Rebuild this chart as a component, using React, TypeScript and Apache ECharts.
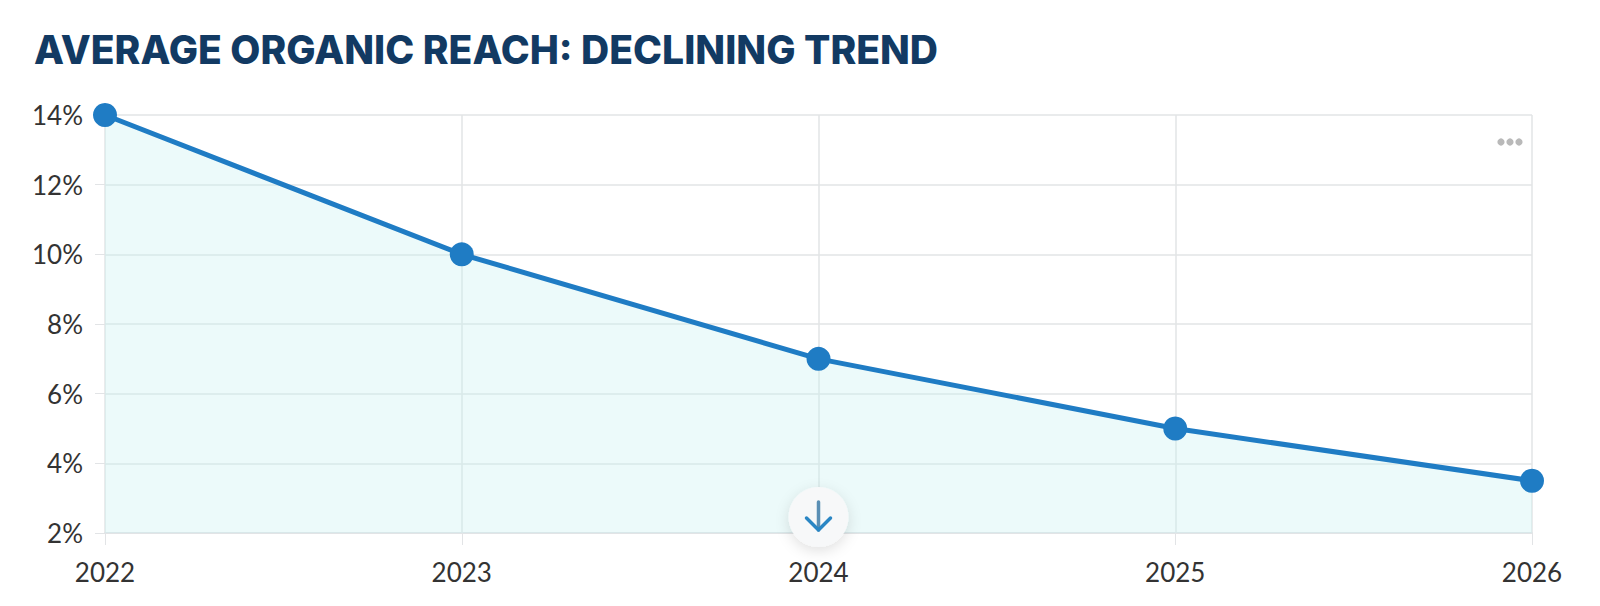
import { useEffect, useRef } from 'react';
import * as echarts from 'echarts';

const years = ['2022', '2023', '2024', '2025', '2026'];
const reach = [14, 10, 7, 5, 3.5];
const yMin = 2;
const yMax = 14;
const yStep = 2;

const LINE_BLUE = '#1f7cc4';
const GRID_GREY = '#e2e4e6';

const App = () => {
    const chartRef = useRef<HTMLDivElement>(null);

    useEffect(() => {
        const chart = echarts.init(chartRef.current, null, { renderer: 'svg' });

        chart.setOption({
            animation: false,
            title: {
                text: 'AVERAGE ORGANIC REACH: DECLINING TREND',
                left: 21,
                top: 17,
                textStyle: {
                    fontFamily: 'Inter',
                    fontWeight: 800,
                    fontSize: 39,
                    color: '#123a63',
                },
            },
            grid: { left: 97, right: 60, top: 107, bottom: 65 },
            xAxis: {
                type: 'category',
                data: years,
                boundaryGap: false,
                axisLine: { lineStyle: { color: GRID_GREY, width: 2 } },
                axisTick: { show: true, length: 12, lineStyle: { color: GRID_GREY } },
                axisLabel: {
                    margin: 26,
                    fontFamily: 'Lato',
                    fontSize: 26,
                    color: '#333',
                },
                splitLine: { show: true, lineStyle: { color: GRID_GREY, width: 1.5 } },
            },
            yAxis: {
                type: 'value',
                min: yMin,
                max: yMax,
                interval: yStep,
                axisLine: { show: false },
                axisTick: { show: true, length: 10, lineStyle: { color: GRID_GREY } },
                axisLabel: {
                    margin: 22,
                    fontFamily: 'Lato',
                    fontSize: 26,
                    color: '#333',
                    formatter: '{value}%',
                },
                splitLine: { lineStyle: { color: GRID_GREY, width: 1.5 } },
            },
            series: [
                {
                    type: 'line',
                    data: reach,
                    symbol: 'circle',
                    symbolSize: 24,
                    itemStyle: { color: LINE_BLUE },
                    lineStyle: { color: LINE_BLUE, width: 5 },
                    areaStyle: { color: 'rgba(200, 240, 240, 0.5)', origin: 'start' },
                    z: 3,
                },
            ],
        });

        // down-arrow badge sitting on the 2024 column at the baseline
        const [bx, by] = chart.convertToPixel({ gridIndex: 0 }, ['2024', yMin]);
        const cy = by - 16;
        chart.setOption({
            graphic: [
                {
                    type: 'circle',
                    shape: { cx: bx, cy, r: 30 },
                    style: {
                        fill: '#f7f8f9',
                        shadowBlur: 14,
                        shadowColor: 'rgba(0,0,0,0.12)',
                        shadowOffsetY: 4,
                    },
                    z: 100,
                },
                {
                    type: 'line',
                    shape: { x1: bx, y1: cy - 15, x2: bx, y2: cy + 13 },
                    style: { stroke: '#5a8fb5', lineWidth: 3.5, lineCap: 'round' },
                    z: 101,
                },
                {
                    type: 'polyline',
                    shape: { points: [[bx - 12, cy + 1], [bx, cy + 13], [bx + 12, cy + 1]] },
                    style: { stroke: '#2a86c4', lineWidth: 3.5, lineCap: 'round', lineJoin: 'round', fill: 'none' },
                    z: 101,
                },
                // "more" dots in the corner
                ...[0, 1, 2].map((i) => ({
                    type: 'circle',
                    shape: { cx: 1493 + i * 9, cy: 134, r: 3.6 },
                    style: { fill: '#b9b9b9' },
                    z: 100,
                })),
            ],
        });

        return () => {
            chart.dispose();
        };
    }, []);

    return <div ref={chartRef} style={{ width: '1584px', height: '590px' }} />;
};

export default App;
